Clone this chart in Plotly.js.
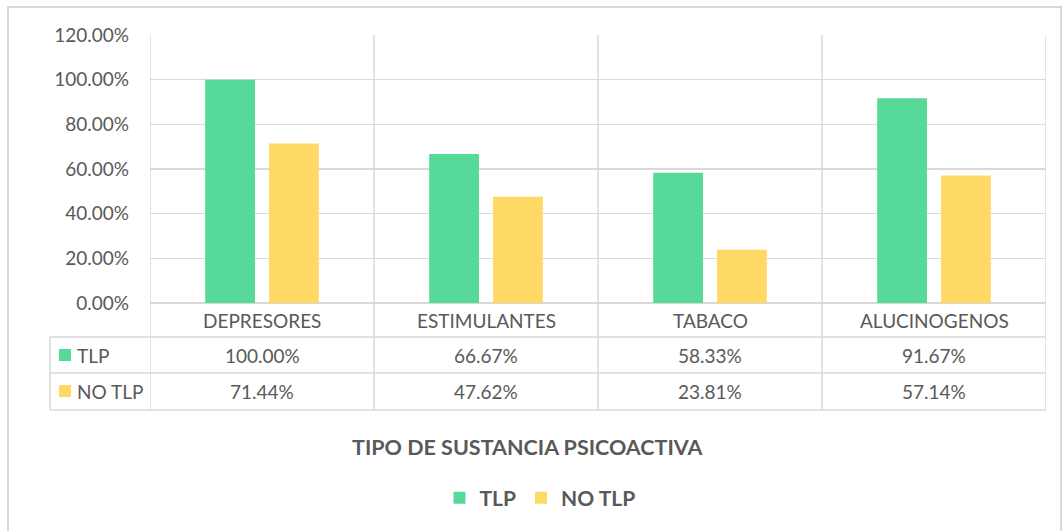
<!DOCTYPE html>
<html>
<head>
<meta charset="utf-8">
<script src="https://cdn.plot.ly/plotly-3.0.1.min.js"></script>
<style>
html,body{margin:0;padding:0;background:#fff;}
#chart{width:1062px;height:531px;}
</style>
</head>
<body>
<div id="chart"></div>
<script>
// ---- data ----
var categories = ['DEPRESORES', 'ESTIMULANTES', 'TABACO', 'ALUCINOGENOS'];
var seriesNames = ['TLP', 'NO TLP'];
var tlpValues = [1.0, 0.6667, 0.5833, 0.9167];
var noTlpValues = [0.7144, 0.4762, 0.2381, 0.5714];
var yTickValues = [0, 0.2, 0.4, 0.6, 0.8, 1.0, 1.2];
var xTitle = 'TIPO DE SUSTANCIA PSICOACTIVA';

// ---- style ----
var seriesColors = ['#57D99A', '#FED966'];
var textColor = '#595959';
var gridColor = '#D9D9D9';
var fontFamily = 'Lato, "Open Sans", sans-serif';
var fs = 19;

var W = 1062, H = 531;
var L = 150, R = 1046, T = 35, B = 303;
function px(x) { return (x - L) / (R - L); }
function py(y) { return (B - y) / (B - T); }

var idx = categories.map(function (c, i) { return i; });
var allValues = [tlpValues, noTlpValues];

var traces = allValues.map(function (vals, s) {
  return {
    type: 'bar',
    x: idx,
    y: vals,
    name: seriesNames[s],
    marker: { color: seriesColors[s], line: { width: 0 } },
    hoverinfo: 'skip'
  };
});

var rowY = [337, 373, 410];
var shapes = [];
var lineStyle = { color: gridColor, width: 1.5 };
// outer chart border
shapes.push({ type: 'rect', xref: 'paper', yref: 'paper', x0: px(8), x1: px(1061), y0: py(7), y1: py(545),
  line: { color: gridColor, width: 2 }, layer: 'below' });
// horizontal table lines
rowY.forEach(function (y) {
  shapes.push({ type: 'line', xref: 'paper', yref: 'paper', x0: px(50), x1: 1, y0: py(y), y1: py(y), line: lineStyle });
});
// vertical column lines (category boundaries)
for (var i = 0; i <= categories.length; i++) {
  shapes.push({ type: 'line', xref: 'x', yref: 'paper', x0: i - 0.5, x1: i - 0.5, y0: 1, y1: py(410), line: lineStyle });
}
// table key column left edge
shapes.push({ type: 'line', xref: 'paper', yref: 'paper', x0: px(50), x1: px(50), y0: py(337), y1: py(410), line: lineStyle });

var annotations = [];
var rowCenters = [320, 355, 391];
categories.forEach(function (c, i) {
  annotations.push({ xref: 'x', yref: 'paper', x: i, y: py(rowCenters[0]), text: c, showarrow: false,
    xanchor: 'center', yanchor: 'middle', font: { family: fontFamily, size: fs, color: textColor } });
  allValues.forEach(function (vals, s) {
    annotations.push({ xref: 'x', yref: 'paper', x: i, y: py(rowCenters[s + 1]), text: (vals[i] * 100).toFixed(2) + '%',
      showarrow: false, xanchor: 'center', yanchor: 'middle', font: { family: fontFamily, size: fs, color: textColor } });
  });
});
seriesNames.forEach(function (n, s) {
  var cy = rowCenters[s + 1];
  shapes.push({ type: 'rect', xref: 'paper', yref: 'paper', x0: px(59), x1: px(71), y0: py(cy - 6), y1: py(cy + 6),
    fillcolor: seriesColors[s], line: { width: 0 } });
  annotations.push({ xref: 'paper', yref: 'paper', x: px(75), y: py(cy), text: n, showarrow: false,
    xanchor: 'left', yanchor: 'middle', font: { family: fontFamily, size: fs, color: textColor } });
});
// axis title (bold, below table)
annotations.push({ xref: 'paper', yref: 'paper', x: px(528), y: py(447), text: '<b>' + xTitle + '</b>', showarrow: false,
  xanchor: 'center', yanchor: 'middle', font: { family: fontFamily, size: 21.5, color: textColor } });

var layout = {
  width: W, height: H,
  margin: { l: L, r: W - R, t: T, b: H - B, pad: 0 },
  paper_bgcolor: '#ffffff', plot_bgcolor: '#ffffff',
  barmode: 'group', bargap: 0.43, bargroupgap: 0.22,
  showlegend: true,
  legend: {
    orientation: 'h', xref: 'container', yref: 'container',
    x: 540 / W, y: 1 - 498 / H, xanchor: 'center', yanchor: 'middle',
    font: { family: fontFamily, size: 21, color: textColor, weight: 'bold' },
    itemwidth: 30, traceorder: 'normal'
  },
  xaxis: {
    range: [-0.5, categories.length - 0.5], showticklabels: false, showgrid: false,
    zeroline: false, showline: false, ticks: '', fixedrange: true
  },
  yaxis: {
    range: [0, 1.2], tickvals: yTickValues, tickformat: '.2%', showgrid: true, gridcolor: gridColor, gridwidth: 1.5,
    zeroline: true, zerolinecolor: gridColor, zerolinewidth: 1.5, showline: false, ticks: '',
    ticklabelstandoff: 20, tickfont: { family: fontFamily, size: fs, color: textColor }, fixedrange: true
  },
  shapes: shapes,
  annotations: annotations
};

Plotly.newPlot('chart', traces, layout, { staticPlot: true, displayModeBar: false });
</script>
</body>
</html>
